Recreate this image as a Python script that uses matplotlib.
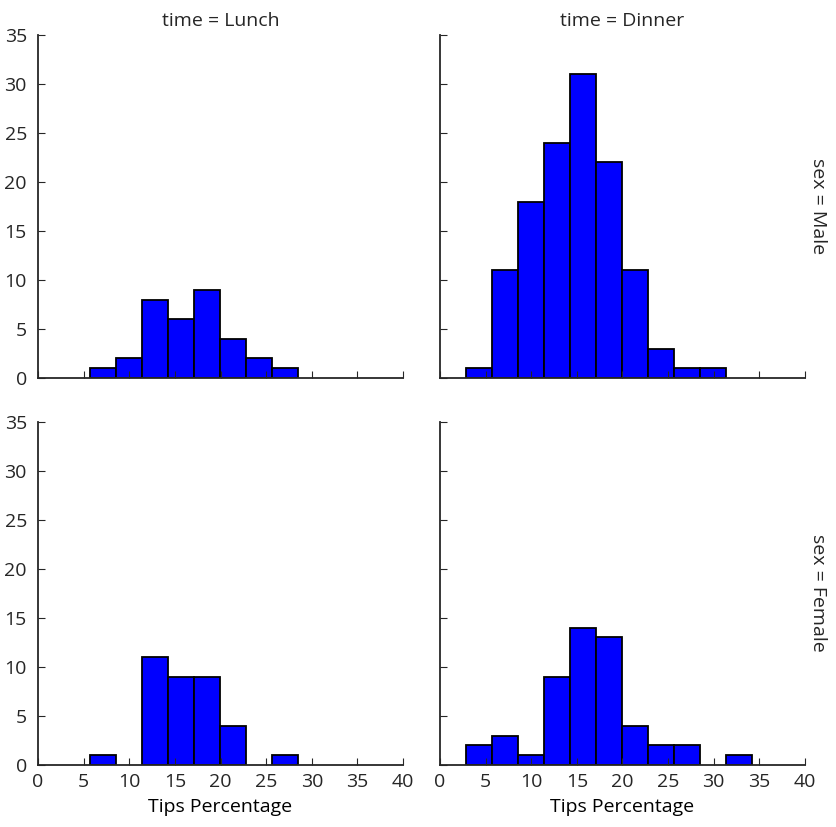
import numpy as np
import matplotlib
matplotlib.use("agg")
import matplotlib.pyplot as plt

# shared bin edges (tip percentage)
edges = [2.83, 5.68, 8.53, 11.38, 14.23, 17.08, 19.93, 22.78, 25.63, 28.48, 31.33, 34.18]

# counts per bin, one list per facet
lunch_male = [0, 1, 2, 8, 6, 9, 4, 2, 1, 0, 0]
dinner_male = [1, 11, 18, 24, 31, 22, 11, 3, 1, 1, 0]
lunch_female = [0, 1, 0, 11, 9, 9, 4, 0, 1, 0, 0]
dinner_female = [2, 3, 1, 9, 14, 13, 4, 2, 2, 0, 1]

times = ["Lunch", "Dinner"]
sexes = ["Male", "Female"]
counts = {("Male", "Lunch"): lunch_male, ("Male", "Dinner"): dinner_male,
          ("Female", "Lunch"): lunch_female, ("Female", "Dinner"): dinner_female}

plt.rcParams['font.family'] = ['Open Sans', 'DejaVu Sans']
plt.rcParams['text.color'] = '#262626'
plt.rcParams['xtick.color'] = '#262626'
plt.rcParams['ytick.color'] = '#262626'
fs = 14

fig = plt.figure(figsize=(8.36, 8.27), dpi=100)

lefts = [0.0455, 0.5263]
bottoms = [0.5429, 0.075]
w, h = 0.4366, 0.4150

widths = np.diff(edges)
for r, sex in enumerate(sexes):
    for c, t in enumerate(times):
        ax = fig.add_axes([lefts[c], bottoms[r], w, h])
        vals = counts[(sex, t)]
        # skip empty bins so no outline is drawn on the baseline
        xs = [edges[i] for i in range(len(vals)) if vals[i] > 0]
        ws = [widths[i] for i in range(len(vals)) if vals[i] > 0]
        hs = [v for v in vals if v > 0]
        ax.bar(xs, hs, width=ws, align='edge',
               color='#0000ff', edgecolor='black', linewidth=1.3)
        ax.set_xlim(0, 40)
        ax.set_ylim(0, 35)
        ax.set_xticks(range(0, 41, 5))
        ax.set_yticks(range(0, 36, 5))
        ax.spines['top'].set_visible(False)
        ax.spines['right'].set_visible(False)
        ax.spines['left'].set_linewidth(1.3)
        ax.spines['bottom'].set_linewidth(1.3)
        ax.spines['left'].set_color('#262626')
        ax.spines['bottom'].set_color('#262626')
        ax.tick_params(direction='in', length=5, width=0.8, labelsize=fs)
        ax.tick_params(axis='x', pad=6)
        ax.tick_params(axis='y', pad=8)
        if c > 0:
            ax.tick_params(labelleft=False)
        if r == 0:
            ax.tick_params(labelbottom=False)
            ax.set_title("time = " + t, fontsize=fs, pad=6)
        else:
            ax.set_xlabel("Tips Percentage", fontsize=fs, labelpad=5)
        if c == 1:
            ax.text(1.012, 0.5, "sex = " + sex, transform=ax.transAxes,
                    rotation=-90, va='center', ha='left', fontsize=fs)

fig.savefig("out.png", dpi=100)
plt.close()
